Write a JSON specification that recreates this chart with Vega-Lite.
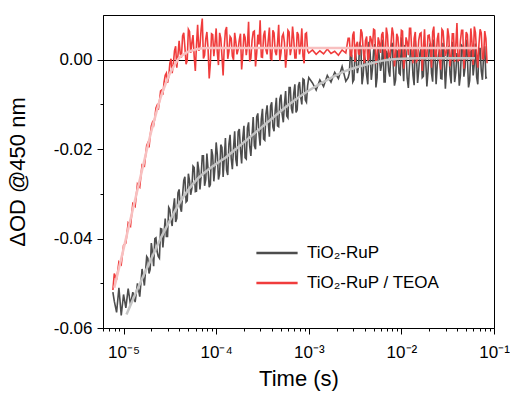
{
  "$schema": "https://vega.github.io/schema/vega-lite/v6.json",
  "width": 391,
  "height": 313,
  "autosize": {"type": "none"},
  "padding": {"left": 103, "top": 15, "right": 16, "bottom": 66},
  "background": "white",
  "config": {
    "view": {"stroke": "black", "strokeWidth": 1},
    "font": "Liberation Sans",
    "axis": {"domainColor": "black", "tickColor": "black", "labelColor": "black", "titleColor": "black", "labelFont": "Liberation Sans", "titleFont": "Liberation Sans", "titleFontWeight": "normal", "tickWidth": 1, "domainWidth": 1}
  },
  "datasets": {
    "raw": [
      {"t":7.67e-6,"g":-0.0520,"r":-0.0515},{"t":7.943e-6,"g":-0.0540,"r":-0.0478},{"t":8.414e-6,"g":-0.0565,"r":-0.0492},{"t":8.913e-6,"g":-0.0510,"r":-0.0452},{"t":9.441e-6,"g":-0.0572,"r":-0.0458},
      {"t":1.0e-5,"g":-0.0525,"r":-0.0415},{"t":1.059e-5,"g":-0.0555,"r":-0.0410},{"t":1.122e-5,"g":-0.0512,"r":-0.0365},{"t":1.189e-5,"g":-0.0548,"r":-0.0372},{"t":1.259e-5,"g":-0.0520,"r":-0.0322},
      {"t":1.334e-5,"g":-0.0542,"r":-0.0328},{"t":1.413e-5,"g":-0.0500,"r":-0.0278},{"t":1.496e-5,"g":-0.0530,"r":-0.0285},{"t":1.585e-5,"g":-0.0468,"r":-0.0235},{"t":1.679e-5,"g":-0.0505,"r":-0.0238},
      {"t":1.778e-5,"g":-0.0440,"r":-0.0192},{"t":1.884e-5,"g":-0.0478,"r":-0.0196},{"t":1.995e-5,"g":-0.0410,"r":-0.0148},{"t":2.114e-5,"g":-0.0462,"r":-0.0146},{"t":2.239e-5,"g":-0.0398,"r":-0.0108},
      {"t":2.371e-5,"g":-0.0440,"r":-0.0112},{"t":2.512e-5,"g":-0.0378,"r":-0.0070},{"t":2.661e-5,"g":-0.0420,"r":-0.0078},{"t":2.818e-5,"g":-0.0355,"r":-0.0035},{"t":2.985e-5,"g":-0.0395,"r":-0.0052},
      {"t":3.162e-5,"g":-0.0335,"r":-0.0008},{"t":3.350e-5,"g":-0.0372,"r":-0.0030},{"t":3.548e-5,"g":-0.0310,"r":0.0020},{"t":3.758e-5,"g":-0.0355,"r":-0.0018},{"t":3.981e-5,"g":-0.0290,"r":0.0042},
      {"t":4.217e-5,"g":-0.0340,"r":0.0005},{"t":4.467e-5,"g":-0.0270,"r":0.0060},{"t":4.732e-5,"g":-0.0318,"r":-0.0010},{"t":5.012e-5,"g":-0.0255,"r":0.0068},{"t":5.309e-5,"g":-0.0302,"r":0.0015},
      {"t":5.623e-5,"g":-0.0238,"r":0.0055},{"t":5.957e-5,"g":-0.0295,"r":-0.0025},{"t":6.310e-5,"g":-0.0228,"r":0.0078},{"t":6.683e-5,"g":-0.0290,"r":0.0030},{"t":7.079e-5,"g":-0.0215,"r":0.0092},
      {"t":7.499e-5,"g":-0.0282,"r":0.0010},{"t":7.943e-5,"g":-0.0210,"r":0.0062},{"t":8.414e-5,"g":-0.0285,"r":-0.0042},{"t":8.913e-5,"g":-0.0200,"r":0.0058},{"t":9.441e-5,"g":-0.0272,"r":0.0008},
      {"t":1.0e-4,"g":-0.0185,"r":0.0070},{"t":1.059e-4,"g":-0.0268,"r":-0.0012},{"t":1.122e-4,"g":-0.0190,"r":0.0048},{"t":1.189e-4,"g":-0.0262,"r":-0.0035},{"t":1.259e-4,"g":-0.0175,"r":0.0065},
      {"t":1.334e-4,"g":-0.0258,"r":0.0002},{"t":1.413e-4,"g":-0.0168,"r":0.0052},{"t":1.496e-4,"g":-0.0245,"r":0.0008},{"t":1.585e-4,"g":-0.0160,"r":0.0060},{"t":1.679e-4,"g":-0.0238,"r":0.0012},
      {"t":1.778e-4,"g":-0.0155,"r":0.0045},{"t":1.884e-4,"g":-0.0232,"r":-0.0022},{"t":1.995e-4,"g":-0.0148,"r":0.0058},{"t":2.114e-4,"g":-0.0222,"r":0.0010},{"t":2.239e-4,"g":-0.0140,"r":0.0085},
      {"t":2.371e-4,"g":-0.0215,"r":0.0003},{"t":2.512e-4,"g":-0.0128,"r":0.0062},{"t":2.661e-4,"g":-0.0200,"r":-0.0015},{"t":2.818e-4,"g":-0.0120,"r":0.0056},{"t":2.985e-4,"g":-0.0192,"r":0.0088},
      {"t":3.162e-4,"g":-0.0110,"r":0.0005},{"t":3.350e-4,"g":-0.0180,"r":0.0065},{"t":3.548e-4,"g":-0.0102,"r":0.0012},{"t":3.758e-4,"g":-0.0172,"r":0.0072},{"t":3.981e-4,"g":-0.0095,"r":0.0000},
      {"t":4.217e-4,"g":-0.0160,"r":0.0060},{"t":4.467e-4,"g":-0.0085,"r":0.0010},{"t":4.732e-4,"g":-0.0150,"r":0.0078},{"t":5.012e-4,"g":-0.0078,"r":0.0015},{"t":5.309e-4,"g":-0.0140,"r":0.0058},
      {"t":5.623e-4,"g":-0.0070,"r":-0.0018},{"t":5.957e-4,"g":-0.0130,"r":0.0066},{"t":6.310e-4,"g":-0.0062,"r":0.0010},{"t":6.683e-4,"g":-0.0120,"r":0.0074},{"t":7.079e-4,"g":-0.0055,"r":0.0004},
      {"t":7.499e-4,"g":-0.0112,"r":0.0062},{"t":7.943e-4,"g":-0.0050,"r":0.0012},{"t":8.414e-4,"g":-0.0100,"r":0.0070},{"t":8.913e-4,"g":-0.0045,"r":-0.0008},{"t":9.441e-4,"g":-0.0095,"r":0.0060},
      {"t":1.0e-3,"g":-0.0040,"r":0.0015},
      {"t":1.096e-3,"g":-0.0052,"r":0.0022},{"t":1.202e-3,"g":-0.0068,"r":0.0012},{"t":1.318e-3,"g":-0.0045,"r":0.0020},{"t":1.445e-3,"g":-0.0060,"r":0.0013},{"t":1.585e-3,"g":-0.0035,"r":0.0024},
      {"t":1.738e-3,"g":-0.0050,"r":0.0014},{"t":1.905e-3,"g":-0.0028,"r":0.0019},{"t":2.089e-3,"g":-0.0042,"r":0.0010},{"t":2.291e-3,"g":-0.0015,"r":0.0022},{"t":2.512e-3,"g":-0.0048,"r":0.0015},
      {"t":2.661e-3,"g":-0.0040,"r":0.0048},{"t":2.818e-3,"g":0.0015,"r":0.0010},{"t":2.985e-3,"g":-0.0050,"r":0.0055},{"t":3.162e-3,"g":0.0025,"r":-0.0005},{"t":3.350e-3,"g":-0.0030,"r":0.0040},
      {"t":3.548e-3,"g":0.0035,"r":0.0012},{"t":3.758e-3,"g":-0.0055,"r":0.0060},{"t":3.981e-3,"g":0.0010,"r":-0.0008},{"t":4.217e-3,"g":-0.0035,"r":0.0052},{"t":4.467e-3,"g":0.0040,"r":0.0005},
      {"t":4.732e-3,"g":-0.0045,"r":0.0045},{"t":5.012e-3,"g":0.0020,"r":0.0068},{"t":5.309e-3,"g":-0.0062,"r":-0.0010},{"t":5.623e-3,"g":0.0030,"r":0.0050},{"t":5.957e-3,"g":-0.0025,"r":0.0015},
      {"t":6.310e-3,"g":0.0045,"r":0.0062},{"t":6.683e-3,"g":-0.0050,"r":-0.0002},{"t":7.079e-3,"g":0.0012,"r":0.0055},{"t":7.499e-3,"g":-0.0038,"r":0.0008},{"t":7.943e-3,"g":0.0038,"r":0.0072},
      {"t":8.414e-3,"g":-0.0058,"r":-0.0015},{"t":8.913e-3,"g":0.0022,"r":0.0058},{"t":9.441e-3,"g":-0.0030,"r":0.0004},{"t":1.0e-2,"g":0.0050,"r":0.0066},{"t":1.059e-2,"g":-0.0048,"r":-0.0020},
      {"t":1.122e-2,"g":0.0018,"r":0.0050},{"t":1.189e-2,"g":-0.0063,"r":0.0010},{"t":1.259e-2,"g":0.0028,"r":0.0070},{"t":1.334e-2,"g":-0.0035,"r":-0.0008},{"t":1.413e-2,"g":0.0042,"r":0.0062},
      {"t":1.496e-2,"g":-0.0052,"r":0.0000},{"t":1.585e-2,"g":0.0015,"r":0.0058},{"t":1.679e-2,"g":-0.0040,"r":-0.0025},{"t":1.778e-2,"g":0.0035,"r":0.0068},{"t":1.884e-2,"g":-0.0060,"r":0.0006},
      {"t":1.995e-2,"g":0.0025,"r":0.0055},{"t":2.114e-2,"g":-0.0030,"r":-0.0018},{"t":2.239e-2,"g":0.0045,"r":0.0074},{"t":2.371e-2,"g":-0.0055,"r":0.0002},{"t":2.512e-2,"g":0.0010,"r":0.0060},
      {"t":2.661e-2,"g":-0.0042,"r":-0.0022},{"t":2.818e-2,"g":0.0038,"r":0.0064},{"t":2.985e-2,"g":-0.0065,"r":0.0008},{"t":3.162e-2,"g":0.0020,"r":0.0070},{"t":3.350e-2,"g":-0.0033,"r":-0.0015},
      {"t":3.548e-2,"g":0.0040,"r":0.0058},{"t":3.758e-2,"g":-0.0050,"r":-0.0005},{"t":3.981e-2,"g":0.0015,"r":0.0082},{"t":4.217e-2,"g":-0.0058,"r":0.0000},{"t":4.467e-2,"g":0.0032,"r":0.0066},
      {"t":4.732e-2,"g":-0.0038,"r":-0.0020},{"t":5.012e-2,"g":0.0045,"r":0.0062},{"t":5.309e-2,"g":-0.0062,"r":0.0005},{"t":5.623e-2,"g":0.0018,"r":0.0070},{"t":5.957e-2,"g":-0.0035,"r":-0.0012},
      {"t":6.310e-2,"g":0.0036,"r":0.0060},{"t":6.683e-2,"g":-0.0055,"r":-0.0018},{"t":7.079e-2,"g":0.0025,"r":0.0068},{"t":7.499e-2,"g":-0.0045,"r":0.0002},{"t":7.943e-2,"g":0.0030,"r":0.0064},
      {"t":8.414e-2,"g":-0.0040,"r":-0.0008},
      {"t":1.830e-5,"g":-0.0444,"r":-0.0186},{"t":1.939e-5,"g":-0.0469,"r":-0.0170},{"t":2.053e-5,"g":-0.0431,"r":-0.0140},{"t":2.176e-5,"g":-0.0400,"r":-0.0130},{"t":2.304e-5,"g":-0.0429,"r":-0.0102},
      {"t":2.440e-5,"g":-0.0444,"r":-0.0094},{"t":2.585e-5,"g":-0.0379,"r":-0.0068},{"t":2.739e-5,"g":-0.0388,"r":-0.0050},{"t":2.900e-5,"g":-0.0395,"r":-0.0030},{"t":3.072e-5,"g":-0.0330,"r":-0.0038},
      {"t":3.254e-5,"g":-0.0359,"r":0.0002},{"t":3.448e-5,"g":-0.0331,"r":-0.0010},{"t":3.652e-5,"g":-0.0363,"r":0.0030},{"t":3.868e-5,"g":-0.0298,"r":0.0010},{"t":4.097e-5,"g":-0.0330,"r":0.0013},
      {"t":4.340e-5,"g":-0.0303,"r":0.0053},{"t":4.597e-5,"g":-0.0262,"r":0.0028},{"t":4.870e-5,"g":-0.0315,"r":-0.0002},{"t":5.158e-5,"g":-0.0271,"r":0.0063},{"t":5.464e-5,"g":-0.0288,"r":0.0038},
      {"t":5.787e-5,"g":-0.0241,"r":0.0008},{"t":6.131e-5,"g":-0.0294,"r":0.0033},{"t":6.494e-5,"g":-0.0247,"r":0.0020},{"t":6.878e-5,"g":-0.0261,"r":0.0068},{"t":7.286e-5,"g":-0.0215,"r":0.0003},
      {"t":7.718e-5,"g":-0.0268,"r":0.0046},{"t":8.175e-5,"g":-0.0244,"r":0.0025},{"t":8.660e-5,"g":-0.0279,"r":-0.0007},{"t":9.173e-5,"g":-0.0214,"r":0.0056},{"t":9.717e-5,"g":-0.0241,"r":0.0036},
      {"t":1.029e-4,"g":-0.0211,"r":0.0016},{"t":1.090e-4,"g":-0.0255,"r":0.0060},{"t":1.155e-4,"g":-0.0196,"r":0.0008},{"t":1.224e-4,"g":-0.0219,"r":0.0030},{"t":1.296e-4,"g":-0.0247,"r":0.0073},
      {"t":1.373e-4,"g":-0.0189,"r":0.0018},{"t":1.454e-4,"g":-0.0221,"r":0.0048},{"t":1.540e-4,"g":-0.0197,"r":0.0000},{"t":1.631e-4,"g":-0.0223,"r":0.0040},{"t":1.728e-4,"g":-0.0161,"r":0.0023},
      {"t":1.830e-4,"g":-0.0200,"r":0.0058},{"t":1.939e-4,"g":-0.0176,"r":0.0010},{"t":2.053e-4,"g":-0.0219,"r":0.0050},{"t":2.176e-4,"g":-0.0153,"r":0.0032},{"t":2.304e-4,"g":-0.0194,"r":-0.0004},
      {"t":2.440e-4,"g":-0.0170,"r":0.0043},{"t":2.585e-4,"g":-0.0192,"r":0.0064},{"t":2.739e-4,"g":-0.0128,"r":0.0014},{"t":2.900e-4,"g":-0.0166,"r":0.0034},{"t":3.072e-4,"g":-0.0133,"r":0.0006},
      {"t":3.254e-4,"g":-0.0177,"r":0.0054},{"t":3.448e-4,"g":-0.0121,"r":0.0022},{"t":3.652e-4,"g":-0.0141,"r":0.0044},{"t":3.868e-4,"g":-0.0104,"r":0.0002},{"t":4.097e-4,"g":-0.0150,"r":0.0066},
      {"t":4.340e-4,"g":-0.0113,"r":0.0018},{"t":4.597e-4,"g":-0.0148,"r":0.0036},{"t":4.870e-4,"g":-0.0088,"r":-0.0002},{"t":5.158e-4,"g":-0.0121,"r":0.0052},{"t":5.464e-4,"g":-0.0099,"r":0.0038},
      {"t":5.787e-4,"g":-0.0126,"r":0.0012},{"t":6.131e-4,"g":-0.0062,"r":0.0062},{"t":6.494e-4,"g":-0.0109,"r":0.0026},{"t":6.878e-4,"g":-0.0076,"r":0.0046},{"t":7.286e-4,"g":-0.0118,"r":0.0004},
      {"t":7.718e-4,"g":-0.0059,"r":0.0056},{"t":8.175e-4,"g":-0.0083,"r":0.0030},{"t":8.660e-4,"g":-0.0043,"r":0.0008},{"t":9.173e-4,"g":-0.0090,"r":0.0058},{"t":9.717e-4,"g":-0.0058,"r":0.0020},
      {"t":2.739e-3,"g":-0.0030,"r":0.0048},{"t":2.900e-3,"g":0.0010,"r":0.0008},{"t":3.072e-3,"g":-0.0045,"r":0.0063},{"t":3.254e-3,"g":0.0000,"r":0.0033},{"t":3.448e-3,"g":-0.0015,"r":0.0013},
      {"t":3.652e-3,"g":0.0030,"r":0.0068},{"t":3.868e-3,"g":-0.0035,"r":0.0023},{"t":4.097e-3,"g":-0.0005,"r":0.0043},{"t":4.340e-3,"g":-0.0055,"r":-0.0002},{"t":4.597e-3,"g":0.0015,"r":0.0053},
      {"t":4.870e-3,"g":-0.0020,"r":0.0028},{"t":5.158e-3,"g":0.0035,"r":0.0066},{"t":5.464e-3,"g":-0.0040,"r":0.0003},{"t":5.787e-3,"g":0.0005,"r":0.0038},{"t":6.131e-3,"g":-0.0010,"r":0.0056},
      {"t":6.494e-3,"g":-0.0050,"r":0.0018},{"t":6.878e-3,"g":0.0020,"r":0.0072},{"t":7.286e-3,"g":-0.0025,"r":0.0006},{"t":7.718e-3,"g":0.0025,"r":0.0034},{"t":8.175e-3,"g":-0.0015,"r":0.0058},
      {"t":8.660e-3,"g":-0.0045,"r":0.0010},{"t":9.173e-3,"g":0.0013,"r":0.0050},{"t":9.717e-3,"g":-0.0033,"r":0.0020},
      {"t":1.029e-2,"g":-0.0003,"r":0.0064},{"t":1.090e-2,"g":0.0033,"r":0.0002},{"t":1.155e-2,"g":-0.0041,"r":0.0040},{"t":1.224e-2,"g":-0.0013,"r":0.0070},{"t":1.296e-2,"g":0.0017,"r":0.0016},
      {"t":1.373e-2,"g":-0.0057,"r":0.0048},{"t":1.454e-2,"g":0.0007,"r":-0.0004},{"t":1.540e-2,"g":-0.0023,"r":0.0044},{"t":1.631e-2,"g":0.0027,"r":0.0060},{"t":1.728e-2,"g":-0.0037,"r":0.0026},
      {"t":1.830e-2,"g":0.0001,"r":0.0004},{"t":1.939e-2,"g":-0.0027,"r":0.0054},{"t":2.053e-2,"g":0.0037,"r":0.0036},{"t":2.176e-2,"g":-0.0049,"r":0.0062},{"t":2.304e-2,"g":0.0011,"r":0.0012},
      {"t":2.440e-2,"g":-0.0011,"r":0.0046},{"t":2.585e-2,"g":0.0023,"r":0.0000},{"t":2.739e-2,"g":-0.0043,"r":0.0068},{"t":2.900e-2,"g":-0.0001,"r":0.0030},{"t":3.072e-2,"g":-0.0019,"r":0.0018},
      {"t":3.254e-2,"g":0.0031,"r":0.0052},{"t":3.448e-2,"g":-0.0053,"r":0.0008},{"t":3.652e-2,"g":0.0019,"r":0.0058},{"t":3.868e-2,"g":-0.0029,"r":0.0032},{"t":4.097e-2,"g":0.0003,"r":-0.0002},
      {"t":4.340e-2,"g":-0.0035,"r":0.0042},{"t":4.597e-2,"g":0.0029,"r":0.0066},{"t":4.870e-2,"g":-0.0017,"r":0.0022},{"t":5.158e-2,"g":0.0005,"r":0.0056},{"t":5.464e-2,"g":-0.0047,"r":0.0006},
      {"t":5.787e-2,"g":0.0021,"r":0.0038},{"t":6.131e-2,"g":-0.0009,"r":0.0074},{"t":6.494e-2,"g":-0.0039,"r":0.0014},{"t":6.878e-2,"g":0.0025,"r":0.0034},{"t":7.286e-2,"g":-0.0025,"r":0.0060},
      {"t":7.718e-2,"g":0.0009,"r":0.0002},{"t":8.175e-2,"g":-0.0041,"r":0.0048}
    ],
    "gfit": [
      {"t":1.076e-5,"od":-0.0570},{"t":1.259e-5,"od":-0.0537},{"t":1.585e-5,"od":-0.0490},{"t":1.995e-5,"od":-0.0445},{"t":2.512e-5,"od":-0.0400},
      {"t":3.162e-5,"od":-0.0360},{"t":3.981e-5,"od":-0.0322},{"t":5.012e-5,"od":-0.0291},{"t":6.310e-5,"od":-0.0266},{"t":7.943e-5,"od":-0.0248},
      {"t":1.0e-4,"od":-0.0233},{"t":1.259e-4,"od":-0.0219},{"t":1.585e-4,"od":-0.0202},{"t":2.512e-4,"od":-0.0167},{"t":3.981e-4,"od":-0.0132},
      {"t":6.310e-4,"od":-0.0098},{"t":1.0e-3,"od":-0.0069},{"t":1.585e-3,"od":-0.0045},{"t":2.512e-3,"od":-0.0025},{"t":3.981e-3,"od":-0.0012},
      {"t":6.310e-3,"od":-0.0002},{"t":1.0e-2,"od":0.0002},{"t":1.585e-2,"od":0.0003},{"t":6.24e-2,"od":0.0003}
    ],
    "rfit": [
      {"t":7.943e-6,"od":-0.0510},{"t":1.0e-5,"od":-0.0423},{"t":1.259e-5,"od":-0.0335},{"t":1.585e-5,"od":-0.0247},{"t":1.995e-5,"od":-0.0160},
      {"t":2.239e-5,"od":-0.0121},{"t":2.512e-5,"od":-0.0085},{"t":2.818e-5,"od":-0.0056},{"t":3.162e-5,"od":-0.0031},{"t":3.548e-5,"od":-0.0012},
      {"t":3.981e-5,"od":0.0004},{"t":4.467e-5,"od":0.0012},{"t":5.012e-5,"od":0.0018},{"t":5.623e-5,"od":0.0021},{"t":6.310e-5,"od":0.0024},
      {"t":7.943e-5,"od":0.0026},{"t":6.6e-2,"od":0.0026}
    ]
  },
  "encoding": {
    "x": {
      "field": "t", "type": "quantitative",
      "scale": {"type": "log", "domain": [6e-6, 0.1], "nice": false},
      "axis": {
        "title": "Time (s)", "titleFontSize": 22, "titlePadding": 8,
        "labelFontSize": 17, "labelPadding": 10, "labelOverlap": false, "labelFlush": false,
        "values": [6e-6,7e-6,8e-6,9e-6,1e-5,2e-5,3e-5,4e-5,5e-5,6e-5,7e-5,8e-5,9e-5,1e-4,2e-4,3e-4,4e-4,5e-4,6e-4,7e-4,8e-4,9e-4,1e-3,2e-3,3e-3,4e-3,5e-3,6e-3,7e-3,8e-3,9e-3,1e-2,2e-2,3e-2,4e-2,5e-2,6e-2,7e-2,8e-2,9e-2,1e-1],
        "labelExpr": "abs(log(datum.value)/LN10 - round(log(datum.value)/LN10)) < 0.01 ? '10' + ['⁰','⁻¹','⁻²','⁻³','⁻⁴','⁻⁵','⁻⁶'][-round(log(datum.value)/LN10)] : ''",
        "tickSize": {"condition": {"test": "abs(log(datum.value)/LN10 - round(log(datum.value)/LN10)) < 0.01", "value": 6}, "value": 3},
        "grid": false
      }
    },
    "y": {
      "field": "od", "type": "quantitative",
      "scale": {"domain": [-0.06, 0.01], "nice": false, "zero": false},
      "axis": {
        "title": "ΔOD @450 nm", "titleFontSize": 22, "titlePadding": 24,
        "labelFontSize": 17, "labelPadding": 5,
        "values": [-0.06, -0.05, -0.04, -0.03, -0.02, -0.01, 0],
        "labelExpr": "abs(datum.value*50 - round(datum.value*50)) < 0.001 ? replace(format(datum.value, '.2f'), '−', '-') : ''",
        "tickSize": {"condition": {"test": "abs(datum.value*50 - round(datum.value*50)) < 0.001", "value": 6}, "value": 3},
        "grid": true, "gridColor": "black", "gridWidth": 1,
        "gridOpacity": {"condition": {"test": "datum.value === 0", "value": 1}, "value": 0}
      }
    }
  },
  "layer": [
    {
      "data": {"name": "raw"},
      "transform": [{"fold": ["g", "r"], "as": ["s", "od"]}],
      "mark": {"type": "line", "strokeWidth": 1.6, "interpolate": "linear"},
      "encoding": {
        "color": {
          "field": "s", "type": "nominal",
          "scale": {"domain": ["g", "r"], "range": ["#4d4d4d", "#f03c3c"]},
          "legend": {
            "orient": "none", "legendX": 152, "legendY": 216, "title": null, "padding": 0,
            "symbolType": "stroke", "symbolSize": 1700, "symbolStrokeWidth": 2.5,
            "labelFontSize": 17, "labelOffset": 8, "rowPadding": 0, "labelColor": "black",
            "labelExpr": "datum.label == 'g' ? 'TiO₂-RuP' : 'TiO₂-RuP / TEOA'"
          }
        }
      }
    },
    {
      "data": {"name": "gfit"},
      "mark": {"type": "line", "color": "#c4c4c4", "strokeWidth": 2.5, "interpolate": "monotone"}
    },
    {
      "data": {"name": "rfit"},
      "mark": {"type": "line", "color": "#f8c0c0", "strokeWidth": 2.5, "interpolate": "monotone"}
    }
  ]
}
